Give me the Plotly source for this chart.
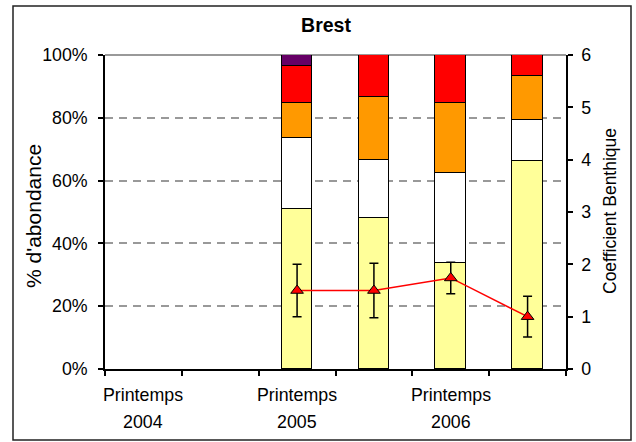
import plotly.graph_objects as go

# Sampling campaigns (one slot per half-year, labels every other slot)
categories = ["Printemps 2004", "", "Printemps 2005", "", "Printemps 2006", ""]
bar_positions = [2, 3, 4, 5]

# Relative abundance of each ecological group (%), bottom to top
group_i = [51.0, 48.0, 33.7, 66.3]
group_ii = [22.5, 18.6, 28.8, 13.0]
group_iii = [11.3, 19.9, 22.3, 14.0]
group_iv = [11.8, 13.5, 15.2, 6.7]
group_v = [3.4, 0.0, 0.0, 0.0]

# Benthic coefficient and its error
coef_benthique = [1.5, 1.5, 1.74, 1.0]
coef_err = [0.5, 0.52, 0.3, 0.39]

pct_ticks = [0, 20, 40, 60, 80, 100]
coef_ticks = [0, 1, 2, 3, 4, 5, 6]

groups = [
    ("Groupe I", group_i, "#FFFF99"),
    ("Groupe II", group_ii, "#FFFFFF"),
    ("Groupe III", group_iii, "#FF9900"),
    ("Groupe IV", group_iv, "#FF0000"),
    ("Groupe V", group_v, "#660066"),
]

FONT = "Liberation Sans, Arial, sans-serif"
TICK_SIZE = 17.8

fig = go.Figure()
for name, vals, color in groups:
    fig.add_trace(go.Bar(
        x=bar_positions, y=vals, name=name, width=0.40,
        marker=dict(color=color, line=dict(color="black", width=1.5)),
        showlegend=False,
    ))

fig.add_trace(go.Scatter(
    x=bar_positions, y=coef_benthique, yaxis="y2", mode="lines+markers",
    name="Coefficient Benthique", showlegend=False,
    line=dict(color="#FF0000", width=1.5),
    marker=dict(symbol="triangle-up", size=11, color="#FF0000",
                line=dict(color="black", width=1)),
    error_y=dict(type="data", array=coef_err, visible=True,
                 color="black", thickness=1.5, width=4.5),
))

# Category labels: season on the first line, year on the second
cat_annotations = []
for i, c in enumerate(categories):
    if not c:
        continue
    season, year = c.split(" ")
    for text, ypix in ((season, 395), (year, 422)):
        cat_annotations.append(dict(
            text=text, x=i, xref="x", yref="paper",
            y=(369 - ypix) / 314, xanchor="center", yanchor="middle",
            showarrow=False, font=dict(family=FONT, size=TICK_SIZE)))

fig.update_layout(
    width=636, height=442,
    margin=dict(l=105, r=70, t=55, b=73),
    paper_bgcolor="white", plot_bgcolor="white",
    barmode="stack", bargap=0,
    font=dict(family=FONT, size=TICK_SIZE, color="black"),
    title=dict(text="<b>Brest</b>", x=326 / 636, xref="container", xanchor="center",
               y=1 - 25 / 442, yanchor="middle",
               font=dict(family=FONT, size=19.5, color="black")),
    xaxis=dict(
        range=[-0.5, len(categories) - 0.5],
        showticklabels=False, ticks="", showgrid=False, zeroline=False,
        showline=True, linecolor="black", linewidth=1.5,
        minor=dict(tickmode="array",
                   tickvals=[i - 0.5 for i in range(len(categories) + 1)],
                   ticks="outside", ticklen=5, tickcolor="black", tickwidth=1.5),
    ),
    yaxis=dict(
        range=[0, 100], tickmode="array", tickvals=pct_ticks,
        ticktext=[f"{v}%" for v in pct_ticks],
        ticks="outside", ticklen=5, tickcolor="black", tickwidth=1.5,
        showline=True, linecolor="black", linewidth=1.5,
        showgrid=True, gridcolor="#999999", gridwidth=1.5, griddash="8px,6px",
        zeroline=False, ticklabelstandoff=7,
    ),
    yaxis2=dict(
        range=[0, 6], tickmode="array", tickvals=coef_ticks,
        overlaying="y", side="right",
        ticks="outside", ticklen=5, tickcolor="black", tickwidth=1.5,
        showline=True, linecolor="black", linewidth=1.5,
        showgrid=False, zeroline=False, ticklabelstandoff=5,
    ),
    shapes=[
        # solid line along the top of the plot area
        dict(type="line", xref="paper", yref="paper", x0=0, x1=1, y0=1, y1=1,
             line=dict(color="#999999", width=2), layer="below"),
        # chart frame
        dict(type="rect", xref="paper", yref="paper",
             x0=(13 - 105) / 461, x1=(631 - 105) / 461,
             y0=(369 - 440) / 314, y1=(369 - 6) / 314,
             line=dict(color="#222222", width=1.5)),
    ],
    annotations=cat_annotations + [
        dict(text="% d'abondance", textangle=-90, xref="paper", yref="paper",
             x=(33 - 105) / 461, y=(369 - 216) / 314,
             xanchor="center", yanchor="middle",
             showarrow=False, font=dict(family=FONT, size=21)),
        dict(text="Coefficient Benthique", textangle=-90, xref="paper", yref="paper",
             x=(610 - 105) / 461, y=(369 - 211) / 314,
             xanchor="center", yanchor="middle",
             showarrow=False, font=dict(family=FONT, size=17.5)),
    ],
)

fig.write_html("out.html")
